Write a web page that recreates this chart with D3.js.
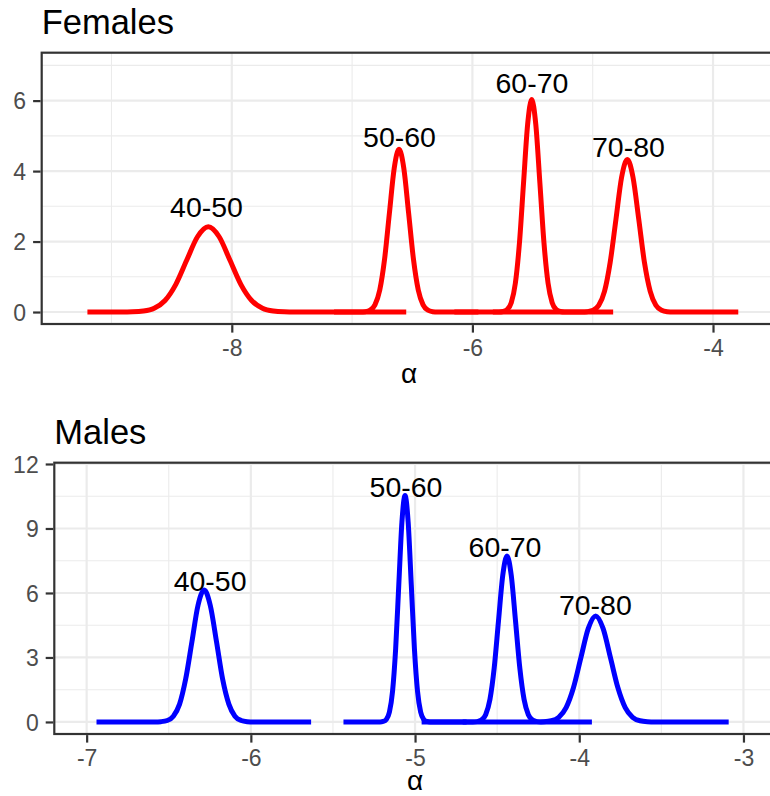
<!DOCTYPE html>
<html>
<head>
<meta charset="utf-8">
<script src="https://cdn.jsdelivr.net/npm/d3@7"></script>
<style>
  html, body { margin: 0; padding: 0; background: #fff; }
  svg { display: block; }
</style>
</head>
<body>
<svg id="chart" width="770" height="796"></svg>
<script>
// ---------------- DATA ----------------
const ageGroups = ["40-50", "50-60", "60-70", "70-80"];

// Females: density curves of alpha, one x-array and one y-array per age group
const femaleX = [
  [-9.20, -8.915, -8.825, -8.735, -8.645, -8.555, -8.465, -8.375, -8.285, -8.195, -8.105, -8.015, -7.925, -7.835, -7.745, -7.655, -7.565, -7.475, -6.55],
  [-7.15, -6.93, -6.89, -6.85, -6.81, -6.77, -6.73, -6.69, -6.65, -6.61, -6.57, -6.53, -6.49, -6.45, -6.41, -6.37, -6.33, -6.29, -5.95],
  [-6.15, -5.779, -5.745, -5.711, -5.677, -5.643, -5.609, -5.575, -5.541, -5.507, -5.473, -5.439, -5.405, -5.371, -5.337, -5.303, -5.269, -5.235, -4.83],
  [-5.83, -5.092, -5.045, -4.997, -4.950, -4.902, -4.855, -4.807, -4.760, -4.712, -4.665, -4.617, -4.570, -4.522, -4.475, -4.427, -4.380, -4.332, -3.79]
];
const femaleY = [
  [0, 0, 0.005, 0.027, 0.106, 0.327, 0.786, 1.468, 2.136, 2.42, 2.136, 1.468, 0.786, 0.327, 0.106, 0.027, 0.005, 0, 0],
  [0, 0, 0.010, 0.051, 0.203, 0.625, 1.500, 2.802, 4.077, 4.62, 4.077, 2.802, 1.500, 0.625, 0.203, 0.051, 0.010, 0, 0],
  [0, 0, 0.013, 0.067, 0.265, 0.816, 1.958, 3.657, 5.321, 6.03, 5.321, 3.657, 1.958, 0.816, 0.265, 0.067, 0.013, 0, 0],
  [0, 0, 0.010, 0.048, 0.190, 0.586, 1.406, 2.626, 3.821, 4.33, 3.821, 2.626, 1.406, 0.586, 0.190, 0.048, 0.010, 0, 0]
];
const femaleLabelX = [-8.21, -6.606, -5.505, -4.703];
const femaleLabelY = [2.99, 4.98, 6.50, 4.70];

// Males
const maleX = [
  [-6.94, -6.584, -6.547, -6.509, -6.472, -6.434, -6.397, -6.359, -6.322, -6.284, -6.247, -6.209, -6.172, -6.134, -6.097, -6.059, -6.022, -5.984, -5.633],
  [-5.436, -5.213, -5.194, -5.175, -5.156, -5.137, -5.118, -5.099, -5.080, -5.061, -5.042, -5.023, -5.004, -4.985, -4.966, -4.947, -4.928, -4.909, -4.686],
  [-4.96, -4.648, -4.622, -4.596, -4.570, -4.544, -4.518, -4.492, -4.466, -4.440, -4.414, -4.388, -4.362, -4.336, -4.310, -4.284, -4.258, -4.232, -3.923],
  [-4.71, -4.260, -4.215, -4.170, -4.125, -4.080, -4.035, -3.990, -3.945, -3.900, -3.855, -3.810, -3.765, -3.720, -3.675, -3.630, -3.585, -3.540, -3.09]
];
const maleY = [
  [0, 0, 0.014, 0.068, 0.270, 0.831, 1.994, 3.724, 5.419, 6.14, 5.419, 3.724, 1.994, 0.831, 0.270, 0.068, 0.014, 0, 0],
  [0, 0, 0.023, 0.117, 0.462, 1.425, 3.419, 6.386, 9.293, 10.53, 9.293, 6.386, 3.419, 1.425, 0.462, 0.117, 0.023, 0, 0],
  [0, 0, 0.017, 0.086, 0.339, 1.045, 2.507, 4.682, 6.813, 7.72, 6.813, 4.682, 2.507, 1.045, 0.339, 0.086, 0.017, 0, 0],
  [0, 0, 0.011, 0.055, 0.216, 0.667, 1.601, 2.990, 4.351, 4.93, 4.351, 2.990, 1.601, 0.667, 0.216, 0.055, 0.011, 0, 0]
];
const maleLabelX = [-6.248, -5.055, -4.452, -3.902];
const maleLabelY = [6.59, 10.92, 8.15, 5.44];

// Axis ticks
const femaleXTicks = [-8, -6, -4];
const femaleXMinor = [-9, -7, -5];
const femaleYTicks = [0, 2, 4, 6];
const femaleYMinor = [1, 3, 5, 7];
const maleXTicks = [-7, -6, -5, -4, -3];
const maleXMinor = [-6.5, -5.5, -4.5, -3.5];
const maleYTicks = [0, 3, 6, 9, 12];
const maleYMinor = [1.5, 4.5, 7.5, 10.5];

// ---------------- DRAWING ----------------
const FONT = "'Liberation Sans', Arial, Helvetica, sans-serif";
const svg = d3.select("#chart");

function panel(cfg) {
  const g = svg.append("g");
  const x = d3.scaleLinear().domain(cfg.xDomain).range([cfg.left, cfg.right]);
  const y = d3.scaleLinear().domain(cfg.yDomain).range([cfg.bottom, cfg.top]);

  // title
  svg.append("text")
    .attr("x", cfg.left).attr("y", cfg.titleY)
    .attr("font-family", FONT).attr("font-size", 34.5)
    .attr("fill", "#000").text(cfg.title);

  // background
  g.append("rect").attr("x", cfg.left).attr("y", cfg.top)
    .attr("width", cfg.right - cfg.left).attr("height", cfg.bottom - cfg.top)
    .attr("fill", "#fff");

  // minor grid
  g.selectAll(".gxm").data(cfg.xMinor).enter().append("line")
    .attr("x1", d => x(d)).attr("x2", d => x(d))
    .attr("y1", cfg.top).attr("y2", cfg.bottom)
    .attr("stroke", "#EBEBEB").attr("stroke-width", 1.1);
  g.selectAll(".gym").data(cfg.yMinor).enter().append("line")
    .attr("y1", d => y(d)).attr("y2", d => y(d))
    .attr("x1", cfg.left).attr("x2", cfg.right)
    .attr("stroke", "#EBEBEB").attr("stroke-width", 1.1);
  // major grid
  g.selectAll(".gx").data(cfg.xTicks).enter().append("line")
    .attr("x1", d => x(d)).attr("x2", d => x(d))
    .attr("y1", cfg.top).attr("y2", cfg.bottom)
    .attr("stroke", "#EBEBEB").attr("stroke-width", 2.2);
  g.selectAll(".gy").data(cfg.yTicks).enter().append("line")
    .attr("y1", d => y(d)).attr("y2", d => y(d))
    .attr("x1", cfg.left).attr("x2", cfg.right)
    .attr("stroke", "#EBEBEB").attr("stroke-width", 2.2);

  // curves
  const line = d3.line().x(d => x(d[0])).y(d => y(d[1])).curve(d3.curveMonotoneX);
  cfg.xs.forEach((xs, i) => {
    const pts = xs.map((v, j) => [v, cfg.ys[i][j]]);
    g.append("path").attr("d", line(pts))
      .attr("fill", "none").attr("stroke", cfg.color)
      .attr("stroke-width", 5).attr("stroke-linejoin", "round")
      .attr("stroke-linecap", "butt");
  });

  // labels
  ageGroups.forEach((lab, i) => {
    g.append("text")
      .attr("x", x(cfg.labelX[i])).attr("y", y(cfg.labelY[i]))
      .attr("dy", "0.36em").attr("text-anchor", "middle")
      .attr("font-family", FONT).attr("font-size", 28.5)
      .attr("fill", "#000").text(lab);
  });

  // border
  g.append("rect").attr("x", cfg.left).attr("y", cfg.top)
    .attr("width", cfg.right - cfg.left).attr("height", cfg.bottom - cfg.top)
    .attr("fill", "none").attr("stroke", "#333333").attr("stroke-width", 2.2);

  // x axis
  const xAxis = d3.axisBottom(x).tickValues(cfg.xTicks).tickSize(7.5).tickPadding(5)
    .tickFormat(d => d3.format("d")(d).replace("\u2212", "-"));
  const xg = svg.append("g").attr("transform", `translate(0,${cfg.bottom + 1.1})`).call(xAxis);
  xg.select(".domain").remove();
  xg.selectAll(".tick line").attr("stroke", "#333333").attr("stroke-width", 2.2);
  xg.selectAll(".tick text").attr("font-family", FONT).attr("font-size", 23)
    .attr("fill", "#4D4D4D").attr("dy", null).attr("y", 30.5);

  // y axis
  const yAxis = d3.axisLeft(y).tickValues(cfg.yTicks).tickSize(7.5).tickPadding(7)
    .tickFormat(d3.format("d"));
  const yg = svg.append("g").attr("transform", `translate(${cfg.left - 1.1},0)`).call(yAxis);
  yg.select(".domain").remove();
  yg.selectAll(".tick line").attr("stroke", "#333333").attr("stroke-width", 2.2);
  yg.selectAll(".tick text").attr("font-family", FONT).attr("font-size", 23)
    .attr("fill", "#4D4D4D").attr("dy", "0.36em");

  // axis title
  svg.append("text").attr("x", cfg.axisTitleX).attr("y", cfg.axisTitleY)
    .attr("text-anchor", "middle").attr("font-family", FONT).attr("font-size", 28)
    .attr("fill", "#000").text("\u03B1");
}

panel({
  title: "Females", titleY: 34.3, color: "#FF0000",
  left: 41.7, right: 785.2, top: 52.7, bottom: 324,
  xDomain: [-9.58, -3.40], yDomain: [-0.34, 7.36],
  xTicks: femaleXTicks, xMinor: femaleXMinor, yTicks: femaleYTicks, yMinor: femaleYMinor,
  xs: femaleX, ys: femaleY, labelX: femaleLabelX, labelY: femaleLabelY,
  axisTitleX: 409, axisTitleY: 383
});

panel({
  title: "Males", titleY: 444.3, color: "#0000FF",
  left: 54.3, right: 776.3, top: 462.7, bottom: 734,
  xDomain: [-7.197, -2.80], yDomain: [-0.56, 12.06],
  xTicks: maleXTicks, xMinor: maleXMinor, yTicks: maleYTicks, yMinor: maleYMinor,
  xs: maleX, ys: maleY, labelX: maleLabelX, labelY: maleLabelY,
  axisTitleX: 415, axisTitleY: 789.5
});
</script>
</body>
</html>
